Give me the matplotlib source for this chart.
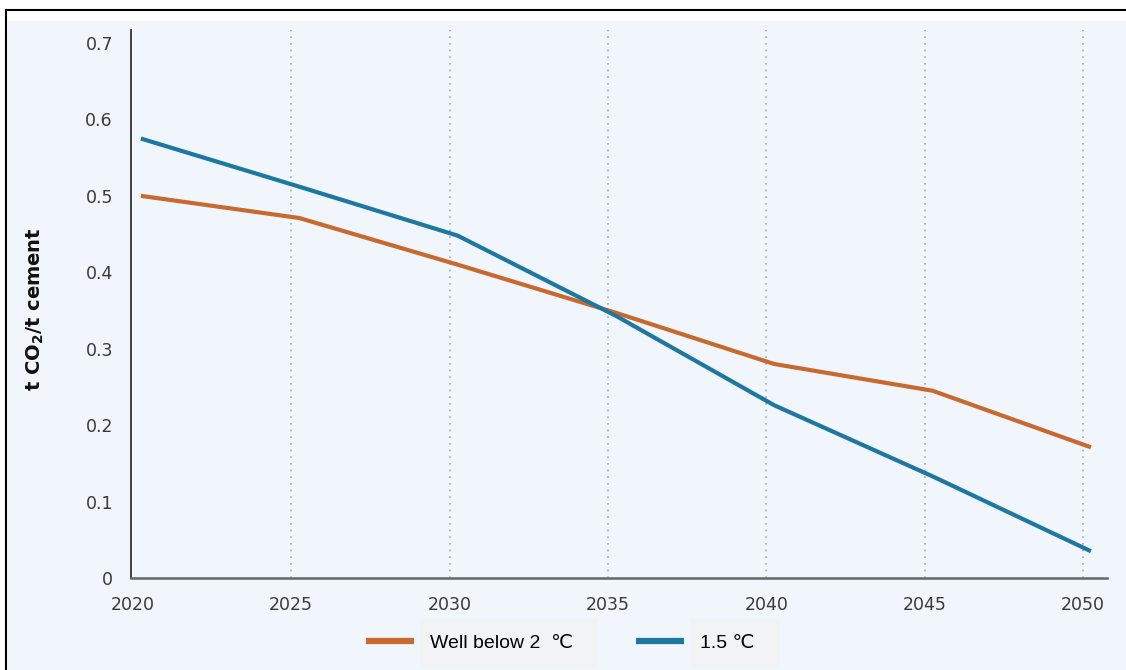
import matplotlib
matplotlib.use("Agg")
import matplotlib.pyplot as plt
from matplotlib.patches import Rectangle
from matplotlib.lines import Line2D
from matplotlib.transforms import ScaledTranslation

# ---- data ----
years = [2020, 2025, 2030, 2035, 2040, 2045, 2050]
well_below_2 = [0.500, 0.471, 0.410, 0.347, 0.280, 0.245, 0.171]
one_point_five = [0.575, 0.512, 0.448, 0.343, 0.226, 0.133, 0.035]
series_labels = ["Well below 2  \u2103", "1.5 \u2103"]
ytick_vals = [0, 0.1, 0.2, 0.3, 0.4, 0.5, 0.6, 0.7]
ytick_labels = ["0", "0.1", "0.2", "0.3", "0.4", "0.5", "0.6", "0.7"]
y_label = r"t CO$_\mathbf{2}$/t cement"

# ---- style ----
W, H, DPI = 1126, 670, 100
BG = "#f0f6fb"
ORANGE = "#c8692f"
BLUE = "#1d77a0"

fig = plt.figure(figsize=(W / DPI, H / DPI), dpi=DPI, facecolor="white")

def px_rect(x0, y0_top, x1, y1_top):
    return (x0 / W, 1 - y1_top / H, (x1 - x0) / W, (y1_top - y0_top) / H)

# light blue panel
x, y, w, h = px_rect(8, 21, W, H)
fig.patches.append(Rectangle((x, y), w, h, transform=fig.transFigure,
                             facecolor=BG, edgecolor="none", zorder=-2))
# black frame lines (top and left)
fig.add_artist(Line2D([6 / W, 1], [1 - 10 / H, 1 - 10 / H], transform=fig.transFigure,
                      color="black", lw=1.5, zorder=-1))
fig.add_artist(Line2D([6 / W, 6 / W], [0, 1 - 10 / H], transform=fig.transFigure,
                      color="black", lw=1.5, zorder=-1))

ax_l, ax_r, ax_b, ax_t = 131, 1107, 578, 30
ax = fig.add_axes([ax_l / W, 1 - ax_b / H, (ax_r - ax_l) / W, (ax_b - ax_t) / H])
ax.set_facecolor("none")

shift = ax.transData + ScaledTranslation(8 / DPI, 0, fig.dpi_scale_trans)
l1, = ax.plot(years, well_below_2, color=ORANGE, lw=3.0, solid_capstyle="butt",
              solid_joinstyle="round", transform=shift, label=series_labels[0])
l2, = ax.plot(years, one_point_five, color=BLUE, lw=3.0, solid_capstyle="butt",
              solid_joinstyle="round", transform=shift, label=series_labels[1])

ax.set_xlim(2019.94, 2050.76)
ax.set_ylim(0, 0.717)
ax.set_xticks(years)
ax.set_xticklabels([str(y) for y in years])
ax.set_yticks(ytick_vals)
ax.set_yticklabels(ytick_labels)
ax.tick_params(axis="both", length=0, labelsize=12.5, labelcolor="#3a3a3a", pad=13)

for yr in years[1:]:
    ax.axvline(yr, color="#a8a8a8", lw=1.2, linestyle=(0, (1, 3)), zorder=0)

for s in ["top", "right"]:
    ax.spines[s].set_visible(False)
ax.spines["left"].set_color("#333333")
ax.spines["left"].set_linewidth(1.3)
ax.spines["bottom"].set_color("#666666")
ax.spines["bottom"].set_linewidth(1.8)

ax.set_ylabel(y_label, fontsize=14, fontweight="bold", color="#111111", va="center")
ax.yaxis.set_label_coords(-0.098, 0.49)

leg = fig.legend(handles=[l1, l2], loc="center", bbox_to_anchor=(0.4978, 0.0403),
                 ncol=2, frameon=False, handlelength=2.47, handletextpad=0.82,
                 columnspacing=3.25,
                 prop={"family": ["Liberation Sans", "DejaVu Sans"], "size": 14})
for lh in leg.get_lines():
    lh.set_linewidth(4.5)

fig.canvas.draw()
for t in leg.get_texts():
    bb = t.get_window_extent()
    cy = (bb.y0 + bb.y1) / 2
    x0 = bb.x0 - 10
    x1 = bb.x1 + 25
    fig.patches.append(Rectangle((x0 / W, (cy - 24) / H), (x1 - x0) / W, 48 / H,
                                 transform=fig.transFigure, facecolor="#f2f3f4",
                                 edgecolor="none", zorder=1))

fig.savefig("out.png", dpi=DPI, facecolor="white")
